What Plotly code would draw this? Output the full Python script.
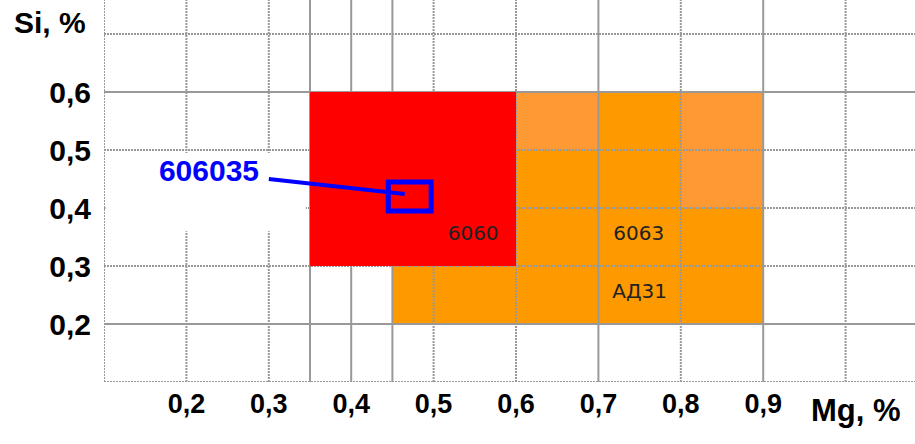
import plotly.graph_objects as go

# ---- data ----
mg_ticks = [0.2, 0.3, 0.4, 0.5, 0.6, 0.7, 0.8, 0.9]
mg_tick_labels = ["0,2", "0,3", "0,4", "0,5", "0,6", "0,7", "0,8", "0,9"]
si_ticks = [0.2, 0.3, 0.4, 0.5, 0.6]
si_tick_labels = ["0,2", "0,3", "0,4", "0,5", "0,6"]

# grid lines (value, style)
mg_grid = [0.1, 0.2, 0.3, 0.35, 0.4, 0.45, 0.5, 0.6, 0.7, 0.8, 0.9, 1.0]
mg_grid_solid = [False, False, False, True, True, True, False, False, True, False, True, False]
si_grid = [0.1, 0.2, 0.3, 0.4, 0.5, 0.6, 0.7]
si_grid_solid = [False, True, False, False, False, True, False]

# composition ranges (Mg min, Mg max, Si min, Si max)
red_zone = [0.35, 0.6, 0.3, 0.6]                       # 6060
orange_zones = [[0.45, 0.9, 0.2, 0.3], [0.6, 0.9, 0.3, 0.6]]  # 6063 / АД31
light_zones = [[0.6, 0.7, 0.5, 0.6], [0.8, 0.9, 0.4, 0.6]]

alloy_names = ["6060", "6063", "АД31"]
alloy_mg = [0.548, 0.749, 0.75]
alloy_si = [0.353, 0.353, 0.253]

# sample 606035
sample_name = "606035"
sample_box = [0.445, 0.497, 0.395, 0.445]
sample_label_mg = 0.2274
sample_label_si = 0.4603
leader_mg = [0.30, 0.465]
leader_si = [0.45, 0.424]
label_mask = [0.102, 0.345, 0.36, 0.495]

W, H = 915, 444
ML, MB = 104, 62
px_per_unit_x = 824.0
px_per_unit_y = 580.0
x_lo, y_lo = 0.1, 0.1
x_hi = x_lo + (W - ML) / px_per_unit_x
y_hi = y_lo + (H - MB) / px_per_unit_y

GRID = "#999999"
shapes = []

def rect(z, color, layer="below"):
    return dict(type="rect", xref="x", yref="y", x0=z[0], x1=z[1], y0=z[2], y1=z[3],
                fillcolor=color, line=dict(width=0), layer=layer)

for z in orange_zones:
    shapes.append(rect(z, "#FF9900"))
for z in light_zones:
    shapes.append(rect(z, "#FF9933"))

for v, s in zip(mg_grid, mg_grid_solid):
    shapes.append(dict(type="line", xref="x", yref="y", x0=v, x1=v, y0=y_lo, y1=y_hi,
                       line=dict(color=GRID, width=2, dash="solid" if s else "2px,1px"),
                       layer="below"))
for v, s in zip(si_grid, si_grid_solid):
    shapes.append(dict(type="line", xref="x", yref="y", x0=x_lo, x1=x_hi, y0=v, y1=v,
                       line=dict(color=GRID, width=2, dash="solid" if s else "2px,1px"),
                       layer="below"))

shapes.append(rect(label_mask, "white"))
shapes.append(rect(red_zone, "#FF0000"))

shapes.append(dict(type="rect", xref="x", yref="y", x0=sample_box[0], x1=sample_box[1],
                   y0=sample_box[2], y1=sample_box[3], line=dict(color="#0000FF", width=5),
                   fillcolor="rgba(0,0,0,0)", layer="above"))
shapes.append(dict(type="line", xref="x", yref="y", x0=leader_mg[0], x1=leader_mg[1],
                   y0=leader_si[0], y1=leader_si[1], line=dict(color="#0000FF", width=4),
                   layer="above"))

fig = go.Figure()
fig.add_trace(go.Scatter(x=alloy_mg, y=alloy_si, text=alloy_names, mode="text",
                         textfont=dict(family="DejaVu Sans", size=20, color="#222222"),
                         hoverinfo="skip", showlegend=False))
fig.add_trace(go.Scatter(x=[sample_label_mg], y=[sample_label_si], text=[sample_name],
                         mode="text",
                         textfont=dict(family="Liberation Sans, Arial", size=30, color="#0000FF",
                                       weight="bold"),
                         hoverinfo="skip", showlegend=False))

fig.update_layout(
    width=W, height=H,
    margin=dict(l=ML, r=0, t=0, b=MB),
    plot_bgcolor="white", paper_bgcolor="white",
    shapes=shapes,
    xaxis=dict(range=[x_lo, x_hi], showgrid=False, zeroline=False, showline=False,
               automargin=False,
               tickvals=mg_ticks, ticktext=mg_tick_labels, ticks="",
               ticklabelstandoff=3,
               tickfont=dict(family="Liberation Sans, Arial", size=27, color="black",
                             weight="bold")),
    yaxis=dict(range=[y_lo, y_hi], showgrid=False, zeroline=False, showline=False,
               automargin=False,
               tickvals=si_ticks, ticktext=si_tick_labels, ticks="",
               ticklabelstandoff=12,
               tickfont=dict(family="Liberation Sans, Arial", size=30, color="black",
                             weight="bold")),
    annotations=[
        dict(text="Si, %", xref="paper", yref="paper", x=(50 - ML) / (W - ML),
             y=(H - MB - 22) / (H - MB), showarrow=False, xanchor="center", yanchor="middle",
             font=dict(family="Liberation Sans, Arial", size=30, color="black", weight="bold")),
        dict(text="Mg, %", xref="paper", yref="paper", x=(856 - ML) / (W - ML),
             y=(H - MB - 410) / (H - MB), showarrow=False, xanchor="center", yanchor="middle",
             font=dict(family="Liberation Sans, Arial", size=31, color="black", weight="bold")),
    ],
)

fig.write_html("out.html", config={"displayModeBar": False},
               post_script="document.body.style.margin='0px';document.body.style.overflow='hidden';")
